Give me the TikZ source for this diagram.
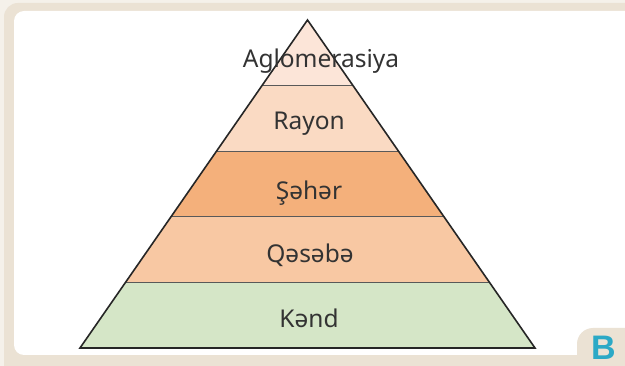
\documentclass[tikz,border=0pt]{standalone}
\usepackage{fontspec}
\setmainfont{Noto Sans}
\newfontfamily\tabfont{Liberation Sans}
\usetikzlibrary{calc}
\definecolor{paper}{HTML}{F5F1EA}
\definecolor{frame}{HTML}{EBE2D4}
\definecolor{tabblue}{HTML}{2BA9C6}
\definecolor{txt}{HTML}{333333}
\definecolor{aglo}{HTML}{FCE5D8}
\definecolor{rayon}{HTML}{FADAC3}
\definecolor{seher}{HTML}{F4B07B}
\definecolor{qeseba}{HTML}{F8C8A3}
\definecolor{kend}{HTML}{D5E6C7}

\begin{document}
\begin{tikzpicture}[x=1pt,y=-1pt,
	tier/.style={font=\fontsize{24.5}{28}\selectfont, text=txt, anchor=base, inner sep=0pt},
	edge/.style={line width=1.6pt, draw=black!85, line join=miter},
	divider/.style={line width=1.2pt, draw=black!65}]
	\useasboundingbox (0,0) rectangle (625,366);
	
	% page frame
	\fill[paper] (0,0) rectangle (625,366);
	\fill[frame, rounded corners=14pt] (4,3) rectangle (660,380);
	\fill[white, rounded corners=10pt] (14,11) rectangle (670,355);
	\fill[frame, rounded corners=16pt] (577,328) rectangle (670,400);
	\node[font=\tabfont\bfseries\fontsize{34}{34}\selectfont, text=tabblue, anchor=base, inner sep=0pt] (tab) at (603.5,359.5) {B};
	
	% pyramid
	\coordinate (apex) at (307.5,20);
	\coordinate (bl) at (80,348);
	\coordinate (br) at (535,348);
	
	\foreach \a/\b/\c in {0/0.2/aglo,0.2/0.4/rayon,0.4/0.6/seher,0.6/0.8/qeseba,0.8/1/kend}
		\fill[\c] ($(apex)!\a!(bl)$) -- ($(apex)!\b!(bl)$) -- ($(apex)!\b!(br)$) -- ($(apex)!\a!(br)$) -- cycle;
	\foreach \t in {0.2,0.4,0.6,0.8}
		\draw[divider] ($(apex)!\t!(bl)$) -- ($(apex)!\t!(br)$);
	\draw[edge] (apex) -- (bl) -- (br) -- cycle;
	
	\node[tier] (aglomerasiya) at (321,68) {Aglomerasiya};
	\node[tier] (rayonname) at (309,130) {Rayon};
	\node[tier] (sehername) at (309,200) {Şəhər};
	\node[tier] (qesebaname) at (310,263) {Qəsəbə};
	\node[tier] (kendname) at (309,328) {Kənd};
\end{tikzpicture}
\end{document}
